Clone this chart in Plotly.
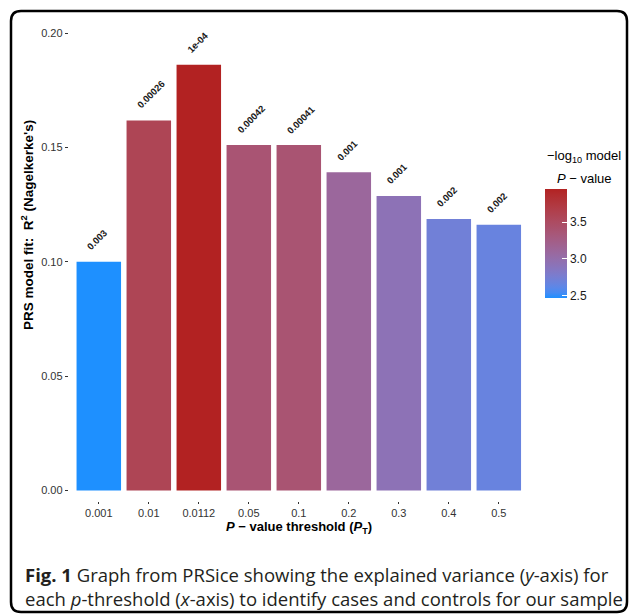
import plotly.graph_objects as go

# ---- data ----
thresholds = ["0.001", "0.01", "0.0112", "0.05", "0.1", "0.2", "0.3", "0.4", "0.5"]
r2_values = [0.1001, 0.1619, 0.1863, 0.1511, 0.1511, 0.1392, 0.1288, 0.1188, 0.1163]
p_labels = ["0.003", "0.00026", "1e-04", "0.00042", "0.00041", "0.001", "0.001", "0.002", "0.002"]
neglog10_p = [2.47, 3.585, 3.95, 3.377, 3.387, 3.10, 2.93, 2.72, 2.67]
y_ticks = [0.00, 0.05, 0.10, 0.15, 0.20]
cbar_ticks = [2.5, 3.0, 3.5]

W, H = 629, 615

def PX(x):
    return x / W

def PY(y):
    return 1 - y / H

# ---- Lab-space gradient (dodgerblue -> firebrick), like ggplot2 ----
def srgb_to_lin(c):
    c = c / 255.0
    return c / 12.92 if c <= 0.04045 else ((c + 0.055) / 1.055) ** 2.4

def lin_to_srgb(c):
    c = max(0.0, min(1.0, c))
    v = 12.92 * c if c <= 0.0031308 else 1.055 * c ** (1 / 2.4) - 0.055
    return int(round(max(0, min(1, v)) * 255))

Xn, Yn, Zn = 0.95047, 1.0, 1.08883

def f(t):
    return t ** (1 / 3) if t > 216 / 24389 else (24389 / 27 * t + 16) / 116

def finv(t):
    return t ** 3 if t ** 3 > 216 / 24389 else (116 * t - 16) / (24389 / 27)

def hex_to_lab(h):
    r, g, b = [srgb_to_lin(int(h[i:i + 2], 16)) for i in (1, 3, 5)]
    X = 0.4124 * r + 0.3576 * g + 0.1805 * b
    Y = 0.2126 * r + 0.7152 * g + 0.0722 * b
    Z = 0.0193 * r + 0.1192 * g + 0.9505 * b
    fx, fy, fz = f(X / Xn), f(Y / Yn), f(Z / Zn)
    return 116 * fy - 16, 500 * (fx - fy), 200 * (fy - fz)

def lab_to_rgb(L, a, b):
    fy = (L + 16) / 116
    fx = fy + a / 500
    fz = fy - b / 200
    X, Y, Z = Xn * finv(fx), Yn * finv(fy), Zn * finv(fz)
    r = 3.2406 * X - 1.5372 * Y - 0.4986 * Z
    g = -0.9689 * X + 1.8758 * Y + 0.0415 * Z
    bb = 0.0557 * X - 0.2040 * Y + 1.0570 * Z
    return "rgb(%d,%d,%d)" % (lin_to_srgb(r), lin_to_srgb(g), lin_to_srgb(bb))

lo, hi = hex_to_lab("#1E90FF"), hex_to_lab("#B22222")
n = 20
colorscale = []
for i in range(n + 1):
    t = i / n
    colorscale.append([t, lab_to_rgb(*[lo[k] + (hi[k] - lo[k]) * t for k in range(3)])])

# ---- layout geometry (reference pixels) ----
px_left, px_right = 68.8, 528.8
px_top, px_bottom = 21.9, 500.8
FONT = "Liberation Sans, Arial, Helvetica, sans-serif"

cat_idx = list(range(len(thresholds)))

fig = go.Figure()
fig.add_trace(go.Bar(
    x=cat_idx, y=r2_values,
    marker=dict(
        color=neglog10_p, colorscale=colorscale, cmin=2.47, cmax=3.95,
        line=dict(width=0),
        colorbar=dict(
            x=PX(545), xanchor="left", xpad=0,
            y=PY(243.5), yanchor="middle", ypad=0,
            len=109 / H, lenmode="fraction", thickness=22,
            outlinewidth=0,
            tickvals=cbar_ticks, ticktext=["%.1f" % v for v in cbar_ticks],
            ticks="inside", ticklen=5, tickcolor="white", tickwidth=1,
            tickfont=dict(family=FONT, size=12, color="#1a1a1a"),
        ),
    ),
    showlegend=False,
    customdata=thresholds,
    hovertemplate="%{customdata}: %{y}<extra></extra>",
))

annotations = []
for xc, yv, lab in zip(cat_idx, r2_values, p_labels):
    annotations.append(dict(
        x=xc, y=yv, xref="x", yref="y", text="<b>" + lab + "</b>", showarrow=False,
        textangle=-45, xanchor="left", yanchor="bottom",
        xshift=-17, yshift=7,
        font=dict(family=FONT, size=9.5, color="#1a1a1a"),
    ))

# axis titles
annotations.append(dict(
    x=PX(299), y=PY(527), xref="paper", yref="paper", showarrow=False,
    text="<b><i>P</i> − value threshold (<i>P</i><sub>T</sub>)</b>",
    xanchor="center", yanchor="middle",
    font=dict(family=FONT, size=13, color="black"),
))
annotations.append(dict(
    x=PX(27), y=PY(225), xref="paper", yref="paper", showarrow=False,
    text="<b>PRS model fit:  R<sup>2</sup> (Nagelkerke's)</b>", textangle=-90,
    xanchor="center", yanchor="middle",
    font=dict(family=FONT, size=13.5, color="black"),
))
# colorbar title
annotations.append(dict(
    x=PX(584), y=PY(156), xref="paper", yref="paper", showarrow=False,
    text="−log<sub>10</sub> model", xanchor="center", yanchor="middle",
    font=dict(family=FONT, size=13, color="black"),
))
annotations.append(dict(
    x=PX(584), y=PY(178), xref="paper", yref="paper", showarrow=False,
    text="<i>P</i> − value", xanchor="center", yanchor="middle",
    font=dict(family=FONT, size=13, color="black"),
))
# caption (two lines in one text block)
CAP = "Open Sans, Noto Sans, sans-serif"
annotations.append(dict(
    x=PX(22.5), y=PY(560), xref="paper", yref="paper", showarrow=False,
    text=("<b>Fig. 1</b> Graph from PRSice showing the explained variance (<i>y</i>-axis) for"
          "<br>each <i>p</i>-threshold (<i>x</i>-axis) to identify cases and controls for our sample"),
    xanchor="left", yanchor="top", align="left",
    font=dict(family=CAP, size=18.5, color="#231F20"),
))

# rounded frame
x0, x1 = PX(11), PX(627)
y0, y1 = PY(612), PY(11)
rx, ry = 10 / W, 10 / H
path = (f"M {x0 + rx},{y1} L {x1 - rx},{y1} Q {x1},{y1} {x1},{y1 - ry} "
        f"L {x1},{y0 + ry} Q {x1},{y0} {x1 - rx},{y0} "
        f"L {x0 + rx},{y0} Q {x0},{y0} {x0},{y0 + ry} "
        f"L {x0},{y1 - ry} Q {x0},{y1} {x0 + rx},{y1} Z")

fig.update_layout(
    width=W, height=H,
    margin=dict(l=0, r=0, t=0, b=0),
    paper_bgcolor="white", plot_bgcolor="white",
    bargap=0.11,
    xaxis=dict(
        domain=[PX(px_left), PX(px_right)],
        range=[-0.6, 8.6],
        tickvals=cat_idx, ticktext=thresholds,
        showgrid=False, zeroline=False, showline=False,
        ticks="outside", ticklen=2, tickcolor="#333333", tickwidth=1,
        tickfont=dict(family=FONT, size=11, color="#333333"),
    ),
    yaxis=dict(
        domain=[PY(px_bottom), PY(px_top)],
        range=[-0.0045, 0.205],
        tickvals=y_ticks, ticktext=["%.2f" % v for v in y_ticks],
        showgrid=False, zeroline=False, showline=False,
        ticks="outside", ticklen=3, tickcolor="#333333", tickwidth=1,
        tickfont=dict(family=FONT, size=11, color="#333333"),
    ),
    annotations=annotations,
    shapes=[dict(type="path", path=path, xref="paper", yref="paper",
                 line=dict(color="black", width=2.5))],
)

fig.write_html(
    "out.html",
    config={"displayModeBar": False},
    post_script="document.body.style.margin='0';document.body.style.overflow='hidden';",
)
